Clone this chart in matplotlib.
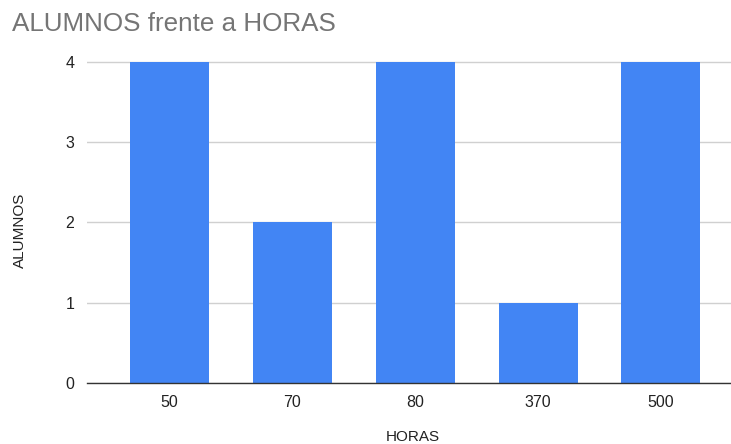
import matplotlib.pyplot as plt

# datos del grafico
horas = ["50", "70", "80", "370", "500"]
alumnos = [4, 2, 4, 1, 4]

plt.rcParams['font.family'] = ['Liberation Sans', 'DejaVu Sans']

fig = plt.figure(figsize=(7.31, 4.44), dpi=100)
ax = fig.add_axes([0.1186, 0.1374, 0.8814, 0.7266])

x = range(len(horas))
ax.bar(x, alumnos, width=0.643, color="#4285F4", zorder=3)

ax.set_xlim(-0.674, 4.57)
ax.set_ylim(0, 4.02)
ax.set_yticks([0, 1, 2, 3, 4])
ax.set_xticks(list(x))
ax.set_xticklabels(horas)
ax.grid(axis="y", color="#d0d0d0", linewidth=1, zorder=0)

for s in ["top", "right", "left"]:
    ax.spines[s].set_visible(False)
ax.spines["bottom"].set_color("#333333")
ax.spines["bottom"].set_linewidth(1)
ax.spines["bottom"].set_zorder(4)

ax.tick_params(axis="both", length=0, labelsize=11.5, labelcolor="#222222")
ax.tick_params(axis="y", pad=9)
ax.tick_params(axis="x", pad=9)

fig.text(0.0164, 0.93, "ALUMNOS frente a HORAS", fontsize=18.7, color="#757575",
         ha="left", va="baseline")
fig.text(0.027, 0.482, "ALUMNOS", rotation=90, fontsize=11, color="#222222",
         ha="center", va="center")
fig.text(0.565, 0.016, "HORAS", fontsize=11, color="#222222",
         ha="center", va="center")

fig.savefig("out.png", dpi=100)
